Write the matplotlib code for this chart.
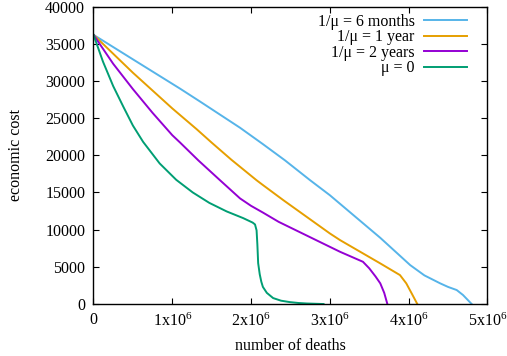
import matplotlib
matplotlib.use("Agg")
import matplotlib.pyplot as plt

plt.rcParams['font.family'] = ['Liberation Serif', 'DejaVu Serif']
plt.rcParams['mathtext.default'] = 'regular'
plt.rcParams['mathtext.fontset'] = 'custom'
plt.rcParams['mathtext.rm'] = 'Liberation Serif'

# data (x in millions of deaths, y economic cost)
x_6m = [0, 0.5, 1.1, 1.35, 1.86, 2.15, 2.43, 2.75, 3.0, 3.64, 4.02, 4.2, 4.4, 4.5, 4.61, 4.69, 4.8]
y_6m = [36200, 32900, 28950, 27240, 23700, 21500, 19320, 16640, 14630, 8900, 5230, 3850, 2780, 2300, 1880, 1210, 0]

x_1y = [0, 0.5, 1.0, 1.31, 1.5, 1.75, 2.07, 2.15, 2.41, 3.0, 3.13, 3.64, 3.89, 3.97, 4.04, 4.11]
y_1y = [36200, 31100, 26300, 23500, 21700, 19400, 16640, 16000, 13960, 9490, 8590, 5460, 3890, 2780, 1400, 0]

x_2y = [0, 0.25, 0.5, 0.75, 1.0, 1.1, 1.33, 1.6, 1.86, 2.0, 2.15, 2.35, 3.0, 3.13, 3.42, 3.5, 3.58, 3.64, 3.69, 3.73]
y_2y = [36200, 32300, 28900, 25700, 22700, 21700, 19320, 16700, 14200, 13200, 12300, 11050, 7690, 7020, 5680, 4800,
        3700, 2780, 1500, 0]

x_0 = [0, 0.12, 0.25, 0.38, 0.5, 0.63, 0.84, 1.05, 1.26, 1.47, 1.69, 1.9, 2.02, 2.05, 2.07, 2.08, 2.09, 2.11,
       2.13, 2.15, 2.2, 2.28, 2.38, 2.49, 2.6, 2.71, 2.92]
y_0 = [36200, 32600, 29300, 26500, 24000, 21800, 18900, 16700, 15000, 13600, 12450, 11550, 10950, 10700, 9900,
       8000, 5500, 4000, 3000, 2300, 1500, 800, 450, 260, 140, 70, 0]

labels = ['1/μ = 6 months', '1/μ = 1 year', '1/μ = 2 years', 'μ = 0']
colors = ['#56b4e9', '#e69f00', '#9400d3', '#009e73']

xticks = [0, 1, 2, 3, 4, 5]
xticklabels = ['0', '1x10$^{6}$', '2x10$^{6}$', '3x10$^{6}$', '4x10$^{6}$', '5x10$^{6}$']
yticks = [0, 5000, 10000, 15000, 20000, 25000, 30000, 35000, 40000]

fig = plt.figure(figsize=(5.07, 3.56), dpi=100)
ax = fig.add_axes([0.1844, 0.146, 0.777, 0.8357])

series = [(x_6m, y_6m), (x_1y, y_1y), (x_2y, y_2y), (x_0, y_0)]
for (xs, ys), lab, c in zip(series, labels, colors):
    ax.plot([v * 1e6 for v in xs], ys, color=c, lw=1.4, label=lab,
            solid_joinstyle='round')

ax.set_xlim(0, 5e6)
ax.set_ylim(0, 40000)
ax.set_xticks([v * 1e6 for v in xticks])
ax.set_xticklabels(xticklabels)
ax.set_yticks(yticks)
ax.tick_params(direction='in', top=True, right=True, length=4, width=0.8,
               labelsize=11.5, pad=6)
for s in ax.spines.values():
    s.set_linewidth(1.0)

ax.set_xlabel('number of deaths', fontsize=11.5, labelpad=6)
ax.set_ylabel('economic cost', fontsize=11.5, labelpad=15)

leg = ax.legend(loc='upper right', bbox_to_anchor=(0.965, 0.997), frameon=False,
                markerfirst=False, fontsize=11.5, handlelength=2.7,
                handletextpad=0.6, labelspacing=-0.03, borderaxespad=0.0)

fig.savefig('out.png', dpi=100)
